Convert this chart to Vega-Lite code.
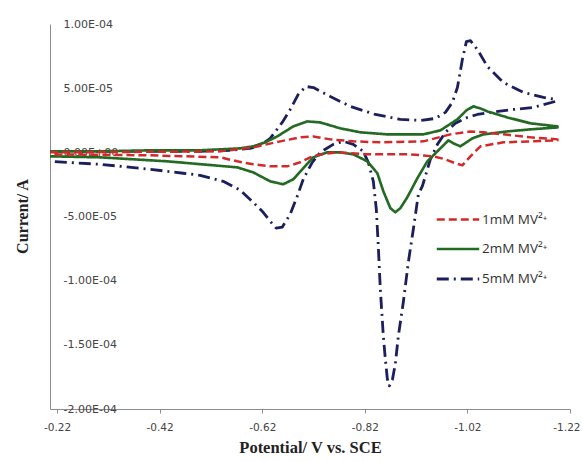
{
  "$schema": "https://vega.github.io/schema/vega-lite/v6.json",
  "width": 520,
  "height": 385,
  "autosize": {"type": "none"},
  "padding": {"left": 50, "top": 24, "right": 13, "bottom": 52},
  "background": "white",
  "config": {"view": {"stroke": null}},
  "data": {"values": [
    {"s":"5mM MV²⁺","i":1,"x":-0.2063,"y":7.8e-7},
    {"s":"5mM MV²⁺","i":2,"x":-0.3039,"y":7.8e-7},
    {"s":"5mM MV²⁺","i":3,"x":-0.4015,"y":7.8e-7},
    {"s":"5mM MV²⁺","i":4,"x":-0.4990,"y":7.8e-7},
    {"s":"5mM MV²⁺","i":5,"x":-0.5576,"y":1.56e-6},
    {"s":"5mM MV²⁺","i":6,"x":-0.5966,"y":3.11e-6},
    {"s":"5mM MV²⁺","i":7,"x":-0.6161,"y":5.44e-6},
    {"s":"5mM MV²⁺","i":8,"x":-0.6356,"y":1.09e-5},
    {"s":"5mM MV²⁺","i":9,"x":-0.6590,"y":2.33e-5},
    {"s":"5mM MV²⁺","i":10,"x":-0.6746,"y":3.34e-5},
    {"s":"5mM MV²⁺","i":11,"x":-0.6902,"y":4.51e-5},
    {"s":"5mM MV²⁺","i":12,"x":-0.7050,"y":5.13e-5},
    {"s":"5mM MV²⁺","i":13,"x":-0.7200,"y":5.05e-5},
    {"s":"5mM MV²⁺","i":14,"x":-0.7527,"y":4.35e-5},
    {"s":"5mM MV²⁺","i":15,"x":-0.7917,"y":3.58e-5},
    {"s":"5mM MV²⁺","i":16,"x":-0.8405,"y":2.95e-5},
    {"s":"5mM MV²⁺","i":17,"x":-0.8893,"y":2.57e-5},
    {"s":"5mM MV²⁺","i":18,"x":-0.9283,"y":2.49e-5},
    {"s":"5mM MV²⁺","i":19,"x":-0.9576,"y":2.64e-5},
    {"s":"5mM MV²⁺","i":20,"x":-0.9771,"y":3.11e-5},
    {"s":"5mM MV²⁺","i":21,"x":-0.9907,"y":3.89e-5},
    {"s":"5mM MV²⁺","i":22,"x":-1.0005,"y":5.05e-5},
    {"s":"5mM MV²⁺","i":23,"x":-1.0102,"y":7.23e-5},
    {"s":"5mM MV²⁺","i":24,"x":-1.0180,"y":8.63e-5},
    {"s":"5mM MV²⁺","i":25,"x":-1.0259,"y":8.71e-5},
    {"s":"5mM MV²⁺","i":26,"x":-1.0395,"y":8.01e-5},
    {"s":"5mM MV²⁺","i":27,"x":-1.0590,"y":6.69e-5},
    {"s":"5mM MV²⁺","i":28,"x":-1.0902,"y":5.44e-5},
    {"s":"5mM MV²⁺","i":29,"x":-1.1293,"y":4.67e-5},
    {"s":"5mM MV²⁺","i":30,"x":-1.1683,"y":4.28e-5},
    {"s":"5mM MV²⁺","i":31,"x":-1.1917,"y":4.12e-5},
    {"s":"5mM MV²⁺","i":32,"x":-1.1917,"y":3.97e-5},
    {"s":"5mM MV²⁺","i":33,"x":-1.1488,"y":3.50e-5},
    {"s":"5mM MV²⁺","i":34,"x":-1.1097,"y":3.34e-5},
    {"s":"5mM MV²⁺","i":35,"x":-1.0649,"y":3.11e-5},
    {"s":"5mM MV²⁺","i":36,"x":-1.0395,"y":2.95e-5},
    {"s":"5mM MV²⁺","i":37,"x":-1.0200,"y":2.72e-5},
    {"s":"5mM MV²⁺","i":38,"x":-0.9966,"y":2.26e-5},
    {"s":"5mM MV²⁺","i":39,"x":-0.9771,"y":1.56e-5},
    {"s":"5mM MV²⁺","i":40,"x":-0.9615,"y":6.22e-6},
    {"s":"5mM MV²⁺","i":41,"x":-0.9478,"y":-5.44e-6},
    {"s":"5mM MV²⁺","i":42,"x":-0.9322,"y":-2.64e-5},
    {"s":"5mM MV²⁺","i":43,"x":-0.9244,"y":-3.27e-5},
    {"s":"5mM MV²⁺","i":44,"x":-0.9146,"y":-5.99e-5},
    {"s":"5mM MV²⁺","i":45,"x":-0.9049,"y":-8.55e-5},
    {"s":"5mM MV²⁺","i":46,"x":-0.8951,"y":-1.166e-4},
    {"s":"5mM MV²⁺","i":47,"x":-0.8854,"y":-1.431e-4},
    {"s":"5mM MV²⁺","i":48,"x":-0.8795,"y":-1.649e-4},
    {"s":"5mM MV²⁺","i":49,"x":-0.8737,"y":-1.773e-4},
    {"s":"5mM MV²⁺","i":50,"x":-0.8678,"y":-1.820e-4},
    {"s":"5mM MV²⁺","i":51,"x":-0.8639,"y":-1.765e-4},
    {"s":"5mM MV²⁺","i":52,"x":-0.8600,"y":-1.610e-4},
    {"s":"5mM MV²⁺","i":53,"x":-0.8561,"y":-1.431e-4},
    {"s":"5mM MV²⁺","i":54,"x":-0.8502,"y":-1.065e-4},
    {"s":"5mM MV²⁺","i":55,"x":-0.8463,"y":-7.31e-5},
    {"s":"5mM MV²⁺","i":56,"x":-0.8424,"y":-4.43e-5},
    {"s":"5mM MV²⁺","i":57,"x":-0.8366,"y":-2.26e-5},
    {"s":"5mM MV²⁺","i":58,"x":-0.8268,"y":-7.78e-6},
    {"s":"5mM MV²⁺","i":59,"x":-0.8171,"y":7.8e-7},
    {"s":"5mM MV²⁺","i":60,"x":-0.7976,"y":6.22e-6},
    {"s":"5mM MV²⁺","i":61,"x":-0.7780,"y":8.55e-6},
    {"s":"5mM MV²⁺","i":62,"x":-0.7585,"y":6.22e-6},
    {"s":"5mM MV²⁺","i":63,"x":-0.7332,"y":0},
    {"s":"5mM MV²⁺","i":64,"x":-0.7176,"y":-7.78e-6},
    {"s":"5mM MV²⁺","i":65,"x":-0.7000,"y":-2.10e-5},
    {"s":"5mM MV²⁺","i":66,"x":-0.6883,"y":-3.42e-5},
    {"s":"5mM MV²⁺","i":67,"x":-0.6746,"y":-4.82e-5},
    {"s":"5mM MV²⁺","i":68,"x":-0.6590,"y":-5.83e-5},
    {"s":"5mM MV²⁺","i":69,"x":-0.6473,"y":-5.91e-5},
    {"s":"5mM MV²⁺","i":70,"x":-0.6356,"y":-5.37e-5},
    {"s":"5mM MV²⁺","i":71,"x":-0.6219,"y":-4.67e-5},
    {"s":"5mM MV²⁺","i":72,"x":-0.6024,"y":-3.89e-5},
    {"s":"5mM MV²⁺","i":73,"x":-0.5771,"y":-2.95e-5},
    {"s":"5mM MV²⁺","i":74,"x":-0.5439,"y":-2.26e-5},
    {"s":"5mM MV²⁺","i":75,"x":-0.4990,"y":-1.79e-5},
    {"s":"5mM MV²⁺","i":76,"x":-0.4659,"y":-1.63e-5},
    {"s":"5mM MV²⁺","i":77,"x":-0.4015,"y":-1.32e-5},
    {"s":"5mM MV²⁺","i":78,"x":-0.3039,"y":-9.33e-6},
    {"s":"5mM MV²⁺","i":79,"x":-0.2063,"y":-7.0e-6},

    {"s":"2mM MV²⁺","i":1,"x":-0.2063,"y":7.8e-7},
    {"s":"2mM MV²⁺","i":2,"x":-0.3039,"y":7.8e-7},
    {"s":"2mM MV²⁺","i":3,"x":-0.4015,"y":1.56e-6},
    {"s":"2mM MV²⁺","i":4,"x":-0.4990,"y":1.56e-6},
    {"s":"2mM MV²⁺","i":5,"x":-0.5380,"y":2.33e-6},
    {"s":"2mM MV²⁺","i":6,"x":-0.5771,"y":3.11e-6},
    {"s":"2mM MV²⁺","i":7,"x":-0.6024,"y":4.67e-6},
    {"s":"2mM MV²⁺","i":8,"x":-0.6258,"y":7.78e-6},
    {"s":"2mM MV²⁺","i":9,"x":-0.6493,"y":1.24e-5},
    {"s":"2mM MV²⁺","i":10,"x":-0.6805,"y":2.02e-5},
    {"s":"2mM MV²⁺","i":11,"x":-0.7078,"y":2.41e-5},
    {"s":"2mM MV²⁺","i":12,"x":-0.7332,"y":2.33e-5},
    {"s":"2mM MV²⁺","i":13,"x":-0.7722,"y":1.87e-5},
    {"s":"2mM MV²⁺","i":14,"x":-0.8112,"y":1.56e-5},
    {"s":"2mM MV²⁺","i":15,"x":-0.8639,"y":1.40e-5},
    {"s":"2mM MV²⁺","i":16,"x":-0.9341,"y":1.40e-5},
    {"s":"2mM MV²⁺","i":17,"x":-0.9673,"y":1.71e-5},
    {"s":"2mM MV²⁺","i":18,"x":-1.0005,"y":2.57e-5},
    {"s":"2mM MV²⁺","i":19,"x":-1.0180,"y":3.27e-5},
    {"s":"2mM MV²⁺","i":20,"x":-1.0317,"y":3.58e-5},
    {"s":"2mM MV²⁺","i":21,"x":-1.0454,"y":3.42e-5},
    {"s":"2mM MV²⁺","i":22,"x":-1.0590,"y":3.19e-5},
    {"s":"2mM MV²⁺","i":23,"x":-1.0980,"y":2.72e-5},
    {"s":"2mM MV²⁺","i":24,"x":-1.1429,"y":2.26e-5},
    {"s":"2mM MV²⁺","i":25,"x":-1.1956,"y":2.02e-5},
    {"s":"2mM MV²⁺","i":26,"x":-1.1956,"y":1.94e-5},
    {"s":"2mM MV²⁺","i":27,"x":-1.1429,"y":1.79e-5},
    {"s":"2mM MV²⁺","i":28,"x":-1.0980,"y":1.63e-5},
    {"s":"2mM MV²⁺","i":29,"x":-1.0512,"y":1.40e-5},
    {"s":"2mM MV²⁺","i":30,"x":-1.0298,"y":1.09e-5},
    {"s":"2mM MV²⁺","i":31,"x":-1.0063,"y":4.67e-6},
    {"s":"2mM MV²⁺","i":32,"x":-0.9927,"y":7.0e-6},
    {"s":"2mM MV²⁺","i":33,"x":-0.9829,"y":9.33e-6},
    {"s":"2mM MV²⁺","i":34,"x":-0.9732,"y":5.44e-6},
    {"s":"2mM MV²⁺","i":35,"x":-0.9615,"y":7.8e-7},
    {"s":"2mM MV²⁺","i":36,"x":-0.9419,"y":-7.0e-6},
    {"s":"2mM MV²⁺","i":37,"x":-0.9224,"y":-2.02e-5},
    {"s":"2mM MV²⁺","i":38,"x":-0.9029,"y":-3.50e-5},
    {"s":"2mM MV²⁺","i":39,"x":-0.8893,"y":-4.35e-5},
    {"s":"2mM MV²⁺","i":40,"x":-0.8795,"y":-4.67e-5},
    {"s":"2mM MV²⁺","i":41,"x":-0.8698,"y":-4.35e-5},
    {"s":"2mM MV²⁺","i":42,"x":-0.8561,"y":-3.03e-5},
    {"s":"2mM MV²⁺","i":43,"x":-0.8444,"y":-1.63e-5},
    {"s":"2mM MV²⁺","i":44,"x":-0.8249,"y":-7.0e-6},
    {"s":"2mM MV²⁺","i":45,"x":-0.7976,"y":-1.56e-6},
    {"s":"2mM MV²⁺","i":46,"x":-0.7722,"y":0},
    {"s":"2mM MV²⁺","i":47,"x":-0.7468,"y":0},
    {"s":"2mM MV²⁺","i":48,"x":-0.7195,"y":-3.89e-6},
    {"s":"2mM MV²⁺","i":49,"x":-0.7000,"y":-1.24e-5},
    {"s":"2mM MV²⁺","i":50,"x":-0.6805,"y":-2.10e-5},
    {"s":"2mM MV²⁺","i":51,"x":-0.6610,"y":-2.49e-5},
    {"s":"2mM MV²⁺","i":52,"x":-0.6356,"y":-2.26e-5},
    {"s":"2mM MV²⁺","i":53,"x":-0.6024,"y":-1.56e-5},
    {"s":"2mM MV²⁺","i":54,"x":-0.5712,"y":-1.17e-5},
    {"s":"2mM MV²⁺","i":55,"x":-0.5244,"y":-1.01e-5},
    {"s":"2mM MV²⁺","i":56,"x":-0.4346,"y":-7.0e-6},
    {"s":"2mM MV²⁺","i":57,"x":-0.3039,"y":-3.89e-6},
    {"s":"2mM MV²⁺","i":58,"x":-0.2063,"y":-3.11e-6},

    {"s":"1mM MV²⁺","i":1,"x":-0.2063,"y":0},
    {"s":"1mM MV²⁺","i":2,"x":-0.3039,"y":2.0e-7},
    {"s":"1mM MV²⁺","i":3,"x":-0.4015,"y":4.0e-7},
    {"s":"1mM MV²⁺","i":4,"x":-0.5380,"y":7.8e-7},
    {"s":"1mM MV²⁺","i":5,"x":-0.6024,"y":3.89e-6},
    {"s":"1mM MV²⁺","i":6,"x":-0.6551,"y":8.55e-6},
    {"s":"1mM MV²⁺","i":7,"x":-0.6941,"y":1.17e-5},
    {"s":"1mM MV²⁺","i":8,"x":-0.7195,"y":1.24e-5},
    {"s":"1mM MV²⁺","i":9,"x":-0.7527,"y":1.01e-5},
    {"s":"1mM MV²⁺","i":10,"x":-0.7976,"y":8.55e-6},
    {"s":"1mM MV²⁺","i":11,"x":-0.8502,"y":7.78e-6},
    {"s":"1mM MV²⁺","i":12,"x":-0.9341,"y":8.55e-6},
    {"s":"1mM MV²⁺","i":13,"x":-0.9868,"y":1.40e-5},
    {"s":"1mM MV²⁺","i":14,"x":-1.0259,"y":1.63e-5},
    {"s":"1mM MV²⁺","i":15,"x":-1.0512,"y":1.56e-5},
    {"s":"1mM MV²⁺","i":16,"x":-1.0902,"y":1.40e-5},
    {"s":"1mM MV²⁺","i":17,"x":-1.1429,"y":1.17e-5},
    {"s":"1mM MV²⁺","i":18,"x":-1.1956,"y":1.01e-5},
    {"s":"1mM MV²⁺","i":19,"x":-1.1956,"y":9.33e-6},
    {"s":"1mM MV²⁺","i":20,"x":-1.1429,"y":8.55e-6},
    {"s":"1mM MV²⁺","i":21,"x":-1.0902,"y":7.78e-6},
    {"s":"1mM MV²⁺","i":22,"x":-1.0454,"y":4.67e-6},
    {"s":"1mM MV²⁺","i":23,"x":-1.0259,"y":-3.11e-6},
    {"s":"1mM MV²⁺","i":24,"x":-1.0102,"y":-1.01e-5},
    {"s":"1mM MV²⁺","i":25,"x":-0.9966,"y":-8.55e-6},
    {"s":"1mM MV²⁺","i":26,"x":-0.9771,"y":-5.44e-6},
    {"s":"1mM MV²⁺","i":27,"x":-0.9537,"y":-3.11e-6},
    {"s":"1mM MV²⁺","i":28,"x":-0.9088,"y":-1.56e-6},
    {"s":"1mM MV²⁺","i":29,"x":-0.8249,"y":-1.56e-6},
    {"s":"1mM MV²⁺","i":30,"x":-0.7663,"y":0},
    {"s":"1mM MV²⁺","i":31,"x":-0.7332,"y":-1.56e-6},
    {"s":"1mM MV²⁺","i":32,"x":-0.7137,"y":-3.89e-6},
    {"s":"1mM MV²⁺","i":33,"x":-0.6941,"y":-7.78e-6},
    {"s":"1mM MV²⁺","i":34,"x":-0.6688,"y":-1.09e-5},
    {"s":"1mM MV²⁺","i":35,"x":-0.6356,"y":-1.09e-5},
    {"s":"1mM MV²⁺","i":36,"x":-0.6024,"y":-9.33e-6},
    {"s":"1mM MV²⁺","i":37,"x":-0.5712,"y":-7.0e-6},
    {"s":"1mM MV²⁺","i":38,"x":-0.5380,"y":-3.89e-6},
    {"s":"1mM MV²⁺","i":39,"x":-0.4015,"y":-2.33e-6},
    {"s":"1mM MV²⁺","i":40,"x":-0.2063,"y":-1.56e-6}
  ]},
  "mark": {"type": "line", "clip": true, "strokeCap": "butt", "strokeJoin": "round"},
  "encoding": {
    "x": {
      "field": "x", "type": "quantitative",
      "scale": {"domain": [-1.22, -0.2063], "reverse": true, "zero": false, "nice": false},
      "axis": {
        "values": [-0.22, -0.42, -0.62, -0.82, -1.02, -1.22],
        "labelExpr": "replace(format(datum.value, '.2f'), '\u2212', '-')",
        "grid": false,
        "domainColor": "#8c8c8c",
        "tickColor": "#8c8c8c",
        "tickSize": 4,
        "labelPadding": 9,
        "labelFont": "DejaVu Sans",
        "labelFontSize": 10.5,
        "labelColor": "#444444",
        "labelFlush": false,
        "labelAlign": {"condition": {"test": "datum.value < -1.2", "value": "right"}, "value": "center"},
        "labelOffset": {"condition": {"test": "datum.value < -1.2", "value": 10}, "value": 0},
        "title": "Potential/ V vs. SCE",
        "titleFont": "Liberation Serif",
        "titleFontSize": 16.5,
        "titleFontWeight": "bold",
        "titleColor": "#222222",
        "titleBaseline": "middle",
        "titleY": 38
      }
    },
    "y": {
      "field": "y", "type": "quantitative",
      "scale": {"domain": [-0.0002, 0.0001], "zero": false, "nice": false},
      "axis": {
        "values": [-0.0002, -0.00015, -0.0001, -0.00005, 0, 0.00005, 0.0001],
        "labelExpr": "replace(replace(replace(format(datum.value, '.2e'), '\u2212', '-'), 'e-', 'E-0'), 'e+', 'E+0')",
        "grid": false,
        "ticks": false,
        "domainColor": "#8c8c8c",
        "labelAlign": "left",
        "labelPadding": -13,
        "labelFont": "DejaVu Sans",
        "labelFontSize": 11,
        "labelColor": "#444444",
        "labelFlush": false,
        "title": "Current/ A",
        "titleFont": "Liberation Serif",
        "titleFontSize": 16,
        "titleFontWeight": "bold",
        "titleColor": "#222222",
        "titleBaseline": "middle",
        "titleX": -28,
        "titleY": 192
      }
    },
    "order": {"field": "i", "type": "quantitative"},
    "color": {
      "field": "s", "type": "nominal",
      "scale": {"domain": ["1mM MV²⁺", "2mM MV²⁺", "5mM MV²⁺"], "range": ["#d02a2a", "#236b23", "#1c1f5e"]},
      "legend": {
        "orient": "none", "legendX": 385, "legendY": 173,
        "title": null, "padding": 0,
        "symbolType": "stroke", "symbolSize": 1800, "symbolStrokeWidth": 3,
        "labelFont": "Open Sans", "labelFontSize": 13.5, "labelColor": "#333333",
        "labelOffset": 1, "rowPadding": -5
      }
    },
    "strokeDash": {
      "field": "s", "type": "nominal",
      "scale": {"domain": ["1mM MV²⁺", "2mM MV²⁺", "5mM MV²⁺"], "range": [[8, 4], [1, 0], [12, 5, 2, 5]]}
    },
    "strokeWidth": {
      "field": "s", "type": "nominal",
      "scale": {"domain": ["1mM MV²⁺", "2mM MV²⁺", "5mM MV²⁺"], "range": [2.5, 2.8, 2.5]},
      "legend": null
    }
  }
}
